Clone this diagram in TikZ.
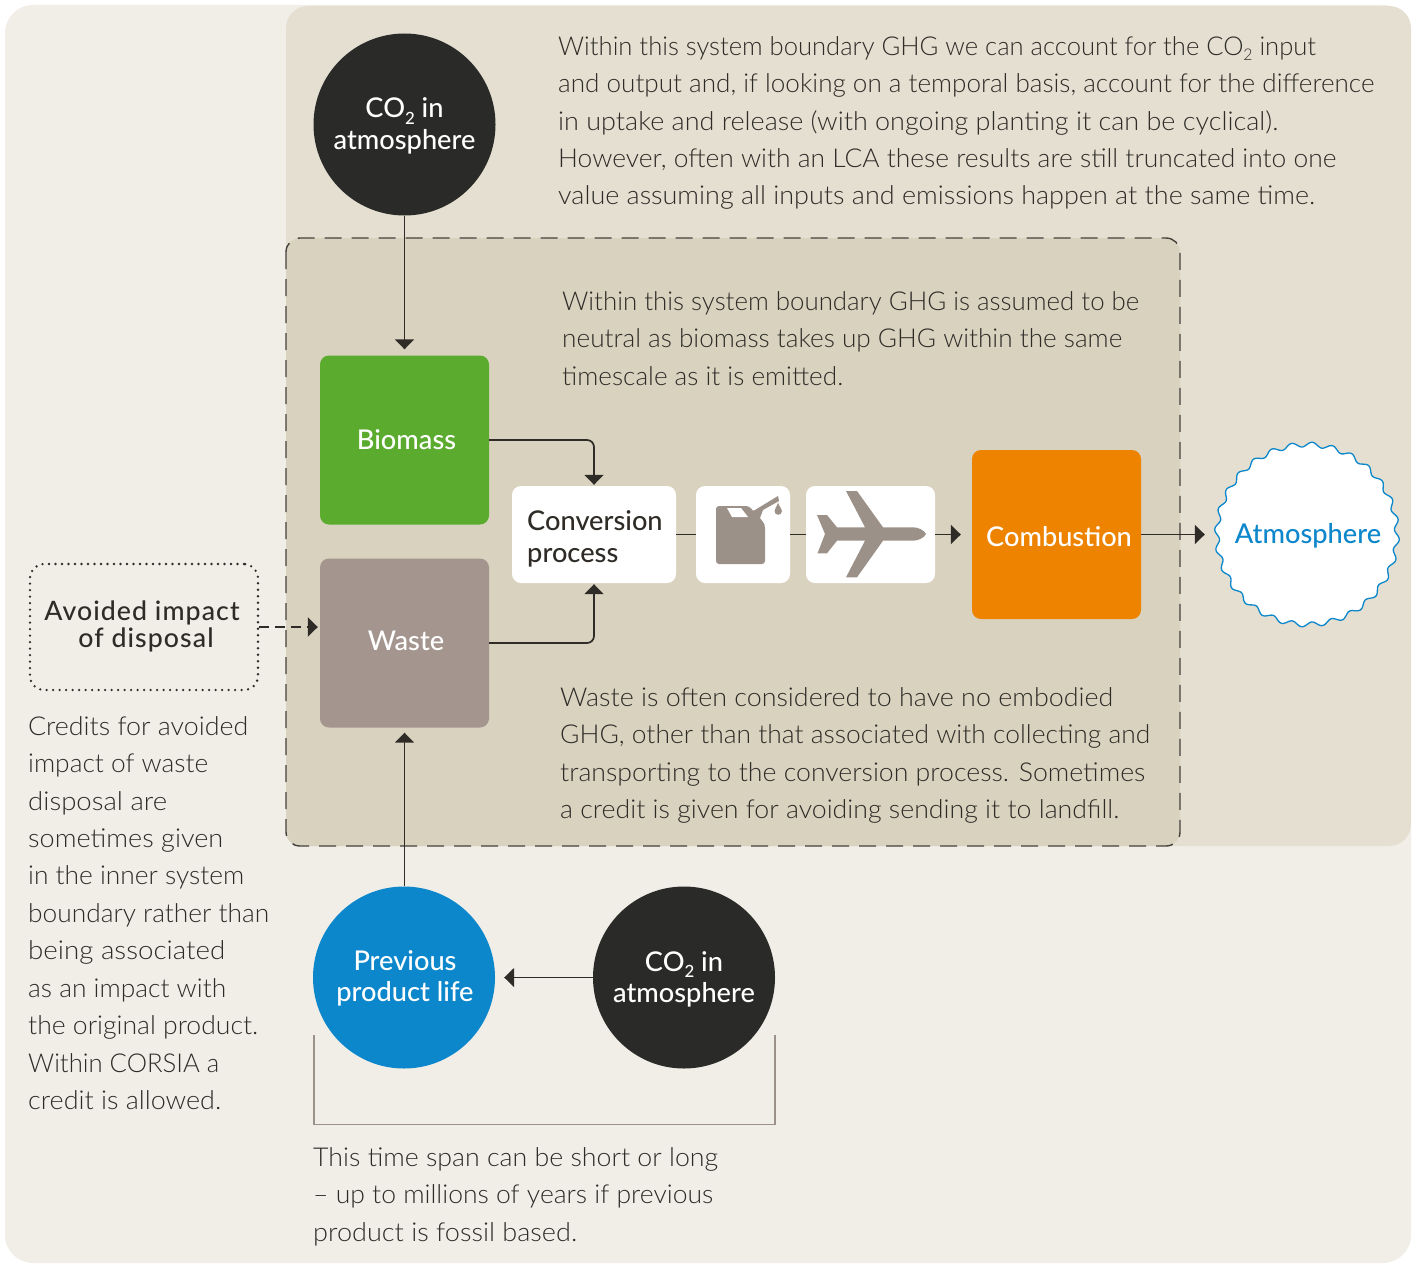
\documentclass[tikz,border=0pt]{standalone}
\usepackage{fontspec}
\usepackage{graphicx}
\setmainfont{Lato}
\newfontfamily\bodyf{Lato Light}
\newfontfamily\headf{Lato Medium}
\newfontfamily\headsp[LetterSpace=4]{Lato Medium}
\usetikzlibrary{arrows.meta,calc}
\definecolor{bgout}{HTML}{F1EEE7}
\definecolor{bgmid}{HTML}{E4DFD1}
\definecolor{bgin}{HTML}{D9D2BF}
\definecolor{ink}{HTML}{2F2C28}
\definecolor{dark}{HTML}{2A2A29}
\definecolor{bluec}{HTML}{0D87CB}
\definecolor{greenc}{HTML}{5BAB2F}
\definecolor{wastec}{HTML}{A4968F}
\definecolor{orangec}{HTML}{EE8300}
\definecolor{iconc}{HTML}{9C9189}
\newcommand{\cotwo}{CO\raisebox{-0.45ex}{\scalebox{0.62}{2}}}
\newcommand{\fl}[2]{\resizebox{#1pt}{\height}{#2}}
\tikzset{
  x=1pt,y=-1pt,
  para/.style={anchor=north west,inner sep=0,align=left,text=ink,font=\bodyf\fontsize{26}{37.45}\selectfont},
  head/.style={inner sep=0,align=center,font=\headf\fontsize{27.2}{31.5}\selectfont},
  disc/.style={circle,fill=dark,text=white,minimum size=182,head},
  tile/.style={rounded corners=9,fill=white,inner sep=0},
  squarebox/.style={rounded corners=9,minimum width=169,minimum height=169,text=white,head},
  link/.style={draw=ink,line width=1.7,-{Triangle[length=10,width=19]}},
  plainlink/.style={draw=ink,line width=1.7},
}
\begin{document}
\begin{tikzpicture}
\useasboundingbox (0,0) rectangle (1415,1263);
\fill[bgout,rounded corners=28] (5,5) rectangle (1411,1263);
\fill[bgmid,rounded corners=22] (286,6) rectangle (1411,846);
\fill[bgin,rounded corners=14] (286,238) rectangle (1180,846);
\draw[ink!90,line width=1.4,dash pattern=on 17 off 10,rounded corners=14] (286,238) rectangle (1180,846);

% nodes
\node[disc] (coa) at (404.5,124.5) {\rule{0pt}{23pt}\cotwo{} in\\atmosphere};
\node[squarebox,fill=greenc] (biomass) at (404.5,440) {\hspace*{4pt}Biomass};
\node[squarebox,fill=wastec] (waste) at (404.5,643) {\hspace*{3pt}Waste\rule[-4pt]{0pt}{1pt}};
\node[tile,minimum width=164,minimum height=97] (conv) at (594,534.5) {};
\node[head,align=left,text=ink,anchor=west] (convt) at (527,539) {Conversion\\process};
\node[tile,minimum width=94,minimum height=97] (can) at (743,534.5) {};
\node[tile,minimum width=129,minimum height=97] (plane) at (870.5,534.5) {};
\node[squarebox,fill=orangec] (comb) at (1056.5,534.5) {\hspace*{5pt}\rule{0pt}{25pt}Combustion};
\fill[white,draw=bluec,line width=1.3,smooth] plot[domain=0:360,samples=400,variable=\t] ({1307+(90+2.4*sin(28*\t))*cos(\t)},{534.5+(90+2.4*sin(28*\t))*sin(\t)});
\node[circle,minimum size=184,inner sep=0,text=bluec,head] (atm) at (1307,534.5) {\hspace*{2pt}\rule{0pt}{22pt}Atmosphere};
\node[draw=ink,line width=2.6,dash pattern=on 0pt off 6.5,line cap=round,rounded corners=14,minimum width=228,minimum height=126,inner sep=0] (avoid) at (144,627) {};
\node[head,text=ink,font=\headsp\fontsize{26.7}{27}\selectfont] (avoidt) at (142,626) {Avoided impact\\\hspace*{8pt}of disposal};
\node[disc,fill=bluec] (prev) at (404,977.5) {\hspace*{2pt}\rule{0pt}{22pt}Previous\\\hspace*{2pt}product life};
\node[disc] (cob) at (684,977.5) {\rule{0pt}{24pt}\cotwo{} in\\atmosphere};

% connectors
\draw[link,shorten >=6] (coa.south) -- (biomass.north);
\draw[link,rounded corners=7,shorten >=1] (biomass.east) -| (conv.north);
\draw[link,rounded corners=7,shorten >=1] (waste.east) -| (conv.south);
\draw[plainlink] (conv.east) -- (can.west);
\draw[plainlink] (can.east) -- (plane.west);
\draw[link,shorten >=11] (plane.east) -- (comb.west);
\draw[link,shorten >=10] (comb.east) -- (atm.west);
\draw[link,line width=2.4,dash pattern=on 10 off 6,shorten >=2] (avoid.east) -- (avoid.east -| waste.west);
\draw[link,shorten >=5] (prev.north -| waste.south) -- (waste.south);
\draw[link,shorten >=9] (cob.west) -- (prev.east);

% bracket
\draw[iconc,line width=1.3] (314,1035) -- (314,1124.5) -- (775,1124.5) -- (775,1035);

% jerrycan
\fill[iconc,rounded corners=3] (716,506) -- (749,506) -- (765,525) -- (765,564) -- (716,564) -- cycle;
\fill[white] (727,508) -- (741,508) -- (748,517) -- (732,517) -- cycle;
\fill[iconc] (755,510) -- (778,496) -- (779,501) -- (763,510) -- (760,518) -- (765,525) -- (749,512) -- cycle;
\fill[iconc] (778,502.5) .. controls (779,507) and (782,508) .. (782,511) .. controls (782,516) and (774.5,516) .. (774.5,511) .. controls (774.5,508) and (777,507) .. (778,502.5) -- cycle;

% plane
\fill[iconc] (926,534) .. controls (924,530) and (918,527.3) .. (913,527.3) -- (883,527.3) -- (857,491) -- (846,491) -- (865,527.3) -- (837,527.3) -- (827,515) -- (817,515) -- (825,534) -- (817.5,553.3) -- (827,553.3) -- (837,540.7) -- (865,540.7) -- (846,577.3) -- (857,577.3) -- (883,540.7) -- (913,540.7) .. controls (918,540.7) and (924,538) .. (926,534) -- cycle;

% texts
\node[para] (t1) at (558,36) {\fl{758}{Within this system boundary GHG we can account for the \cotwo{} input}\\\fl{816}{and output and, if looking on a temporal basis, account for the difference}\\\fl{720}{in uptake and release (with ongoing planting it can be cyclical).}\\\fl{778}{However, often with an LCA these results are still truncated into one}\\\fl{757}{value assuming all inputs and emissions happen at the same time.}};
\node[para] (t2) at (562,291) {\fl{577}{Within this system boundary GHG is assumed to be}\\\fl{560}{neutral as biomass takes up GHG within the same}\\\fl{281}{timescale as it is emitted.}};
\node[para] (t3) at (560,687) {\fl{553}{Waste is often considered to have no embodied}\\\fl{590}{GHG, other than that associated with collecting and}\\\fl{585}{transporting to the conversion process. Sometimes}\\\fl{559}{a credit is given for avoiding sending it to landfill.}};
\node[para] (t4) at (28,716) {\fl{220}{Credits for avoided}\\\fl{180}{impact of waste}\\\fl{139}{disposal are}\\\fl{195}{sometimes given}\\\fl{216}{in the inner system}\\\fl{241}{boundary rather than}\\\fl{197}{being associated}\\\fl{198}{as an impact with}\\\fl{230}{the original product.}\\\fl{191}{Within CORSIA a}\\\fl{193}{credit is allowed.}};
\node[para] (t5) at (313,1147) {\fl{405}{This time span can be short or long}\\\fl{400}{– up to millions of years if previous}\\\fl{264}{product is fossil based.}};
\end{tikzpicture}
\end{document}
